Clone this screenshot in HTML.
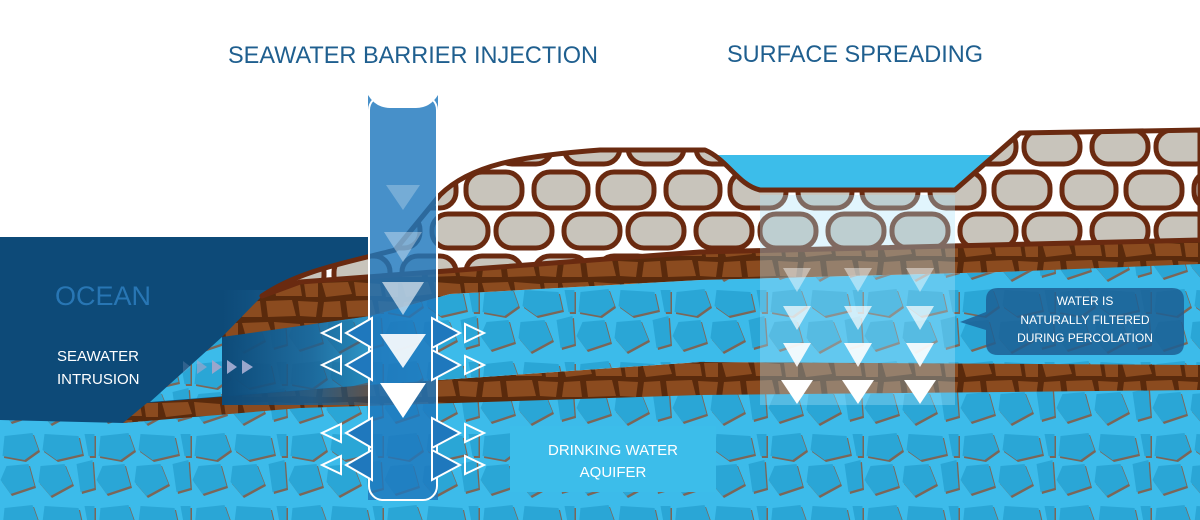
<!DOCTYPE html>
<html><head><meta charset="utf-8"><style>
html,body{margin:0;padding:0;background:#fff;}
svg{display:block;}
text{font-family:"Liberation Sans",sans-serif;}
</style></head><body>
<svg width="1200" height="520" viewBox="0 0 1200 520" xmlns="http://www.w3.org/2000/svg">
<defs>
<pattern id="pb" width="96" height="72" patternUnits="userSpaceOnUse">
<rect width="96" height="72" fill="#3cbbea"/>
<g fill="#7b6658">
<polygon points="6,6 34,3 40,20 26,30 4,26"/><polygon points="46,4 80,6 84,24 58,30 44,20"/>
<polygon points="8,36 30,34 36,56 12,64 2,50"/><polygon points="42,36 66,34 74,54 52,66 40,52"/>
<polygon points="78,34 94,30 96,58 82,62"/><polygon points="86,4 96,4 96,26 90,26"/>
</g>
<g fill="#2aa6d6" transform="translate(-1.5,-2)">
<polygon points="6,6 34,3 40,20 26,30 4,26"/><polygon points="46,4 80,6 84,24 58,30 44,20"/>
<polygon points="8,36 30,34 36,56 12,64 2,50"/><polygon points="42,36 66,34 74,54 52,66 40,52"/>
<polygon points="78,34 94,30 96,58 82,62"/><polygon points="86,4 96,4 96,26 90,26"/>
</g>
</pattern>
<pattern id="pr" width="80" height="40" patternUnits="userSpaceOnUse">
<rect width="80" height="40" fill="#5a2a0c"/>
<g fill="#8b4b1f">
<polygon points="2,3 28,2 32,14 6,17"/><polygon points="34,2 60,4 62,16 36,16"/><polygon points="64,3 78,3 78,17 66,17"/>
<polygon points="4,22 20,21 22,37 2,37"/><polygon points="26,21 52,20 56,36 28,37"/><polygon points="58,21 78,22 76,37 60,36"/>
</g>
</pattern>
<pattern id="pg" width="132" height="84" patternUnits="userSpaceOnUse">
<rect width="132" height="84" fill="#fff"/>
<g fill="#c8c4bb" stroke="#6a2a10" stroke-width="5">
<rect x="6" y="4" width="54" height="36" rx="16"/><rect x="70" y="4" width="56" height="36" rx="16"/>
<rect x="36" y="46" width="56" height="34" rx="16"/><rect x="100" y="46" width="56" height="34" rx="16"/><rect x="-32" y="46" width="56" height="34" rx="16"/>
</g>
</pattern>
<linearGradient id="og" x1="0" x2="1" y1="0" y2="0">
<stop offset="0" stop-color="#0d4a78" stop-opacity="1"/>
<stop offset="0.45" stop-color="#1a5f92" stop-opacity="0.85"/>
<stop offset="1" stop-color="#1a5f92" stop-opacity="0"/>
</linearGradient>
</defs>

<rect x="0" y="380" width="1200" height="140" fill="url(#pb)"/>
<path d="M0,237 L370,237 L370,400 L123,423 L0,420 Z" fill="#0d4a78"/>
<path d="M123,423 L147,403 L367,385 L700,362 L1200,364 L1200,390 L700,395 L300,408 Z" fill="url(#pr)"/>
<path d="M222,337 L370,316 L450,294 L700,280 L1000,272 L1200,263 L1200,365 L700,362 L367,385 L150,402 Z" fill="url(#pb)"/>
<rect x="222" y="290" width="200" height="115" fill="url(#og)"/>
<rect x="705" y="155" width="300" height="45" fill="#3cbdea"/>
<path d="M222,337 L262,296 L300,282 L500,267 L700,252 L1200,240 L1200,264 L1000,272 L700,280 L450,294 L370,316 Z" fill="url(#pr)"/>
<path d="M262,296 C300,270 350,262 395,250 L440,195 C470,165 520,156 600,150 L705,150 C728,160 738,185 760,190 L955,190 L1020,133 L1200,130 L1200,240 L700,252 L500,267 L300,282 Z" fill="url(#pg)" stroke="#6a2a10" stroke-width="5" stroke-linejoin="round"/>

<rect x="760" y="195" width="195" height="210" fill="#a8e2f8" opacity="0.35"/>
<g fill="#fff">
<g opacity="0.45"><polygon points="783,268 811,268 797,292"/><polygon points="844,268 872,268 858,292"/><polygon points="906,268 934,268 920,292"/></g>
<g opacity="0.7"><polygon points="783,306 811,306 797,330"/><polygon points="844,306 872,306 858,330"/><polygon points="906,306 934,306 920,330"/></g>
<g opacity="0.9"><polygon points="783,343 811,343 797,367"/><polygon points="844,343 872,343 858,367"/><polygon points="906,343 934,343 920,367"/></g>
<g><polygon points="781,380 813,380 797,404"/><polygon points="842,380 874,380 858,404"/><polygon points="904,380 936,380 920,404"/></g>
</g>

<path d="M368,95 Q376,108 390,108 L416,108 Q430,108 438,95 L438,500 L368,500 Z" fill="#1f78bd" opacity="0.82"/>
<rect x="369" y="96" width="68" height="404" rx="14" fill="none" stroke="#fff" stroke-width="2"/>
<g fill="#fff">
<polygon points="386,185 420,185 403,210" opacity="0.25"/>
<polygon points="384,232 422,232 403,262" opacity="0.35"/>
<polygon points="382,282 424,282 403,315" opacity="0.6"/>
<polygon points="380,334 426,334 403,368" opacity="0.9"/>
<polygon points="380,383 426,383 403,418"/>
</g>
<g stroke="#fff" stroke-width="2" fill="#1f78bd">
<g id="arr">
<polygon points="372,318 372,348 346,333"/><polygon points="341,324 341,342 322,333" fill="none"/>
<polygon points="432,318 432,348 460,333"/><polygon points="465,324 465,342 484,333" fill="none"/>
</g>
<use href="#arr" y="32"/><use href="#arr" y="100"/><use href="#arr" y="132"/>
</g>

<g fill="#9aa6cc">
<polygon points="183,361 191,367 183,373" opacity="0.25"/>
<polygon points="197,360 207,367 197,374" opacity="0.7"/>
<polygon points="212,360 222,367 212,374"/>
<polygon points="227,360 237,367 227,374"/>
<polygon points="242,360 253,367 242,374"/>
</g>

<text x="228" y="63" font-size="24" fill="#1f5f8f" textLength="370" lengthAdjust="spacingAndGlyphs">SEAWATER BARRIER INJECTION</text>
<text x="727" y="62" font-size="24" fill="#1f5f8f" textLength="256" lengthAdjust="spacingAndGlyphs">SURFACE SPREADING</text>
<text x="55" y="305" font-size="27" fill="#2876b4">OCEAN</text>
<text x="57" y="361" font-size="15" fill="#fff">SEAWATER</text>
<text x="57" y="384" font-size="15" fill="#fff">INTRUSION</text>

<rect x="510" y="426" width="206" height="66" fill="#3cbdea"/>
<text x="613" y="455" font-size="15" fill="#fff" text-anchor="middle">DRINKING WATER</text>
<text x="613" y="477" font-size="15" fill="#fff" text-anchor="middle">AQUIFER</text>

<path d="M998,288 L1172,288 Q1184,288 1184,300 L1184,343 Q1184,355 1172,355 L998,355 Q986,355 986,343 L986,330 L960,322 L986,312 L986,300 Q986,288 998,288 Z" fill="#1c5f94" opacity="0.85"/>
<text x="1085" y="305" font-size="12" fill="#fff" text-anchor="middle">WATER IS</text>
<text x="1085" y="324" font-size="12" fill="#fff" text-anchor="middle">NATURALLY FILTERED</text>
<text x="1085" y="342" font-size="12" fill="#fff" text-anchor="middle">DURING PERCOLATION</text>
</svg>
</body></html>
